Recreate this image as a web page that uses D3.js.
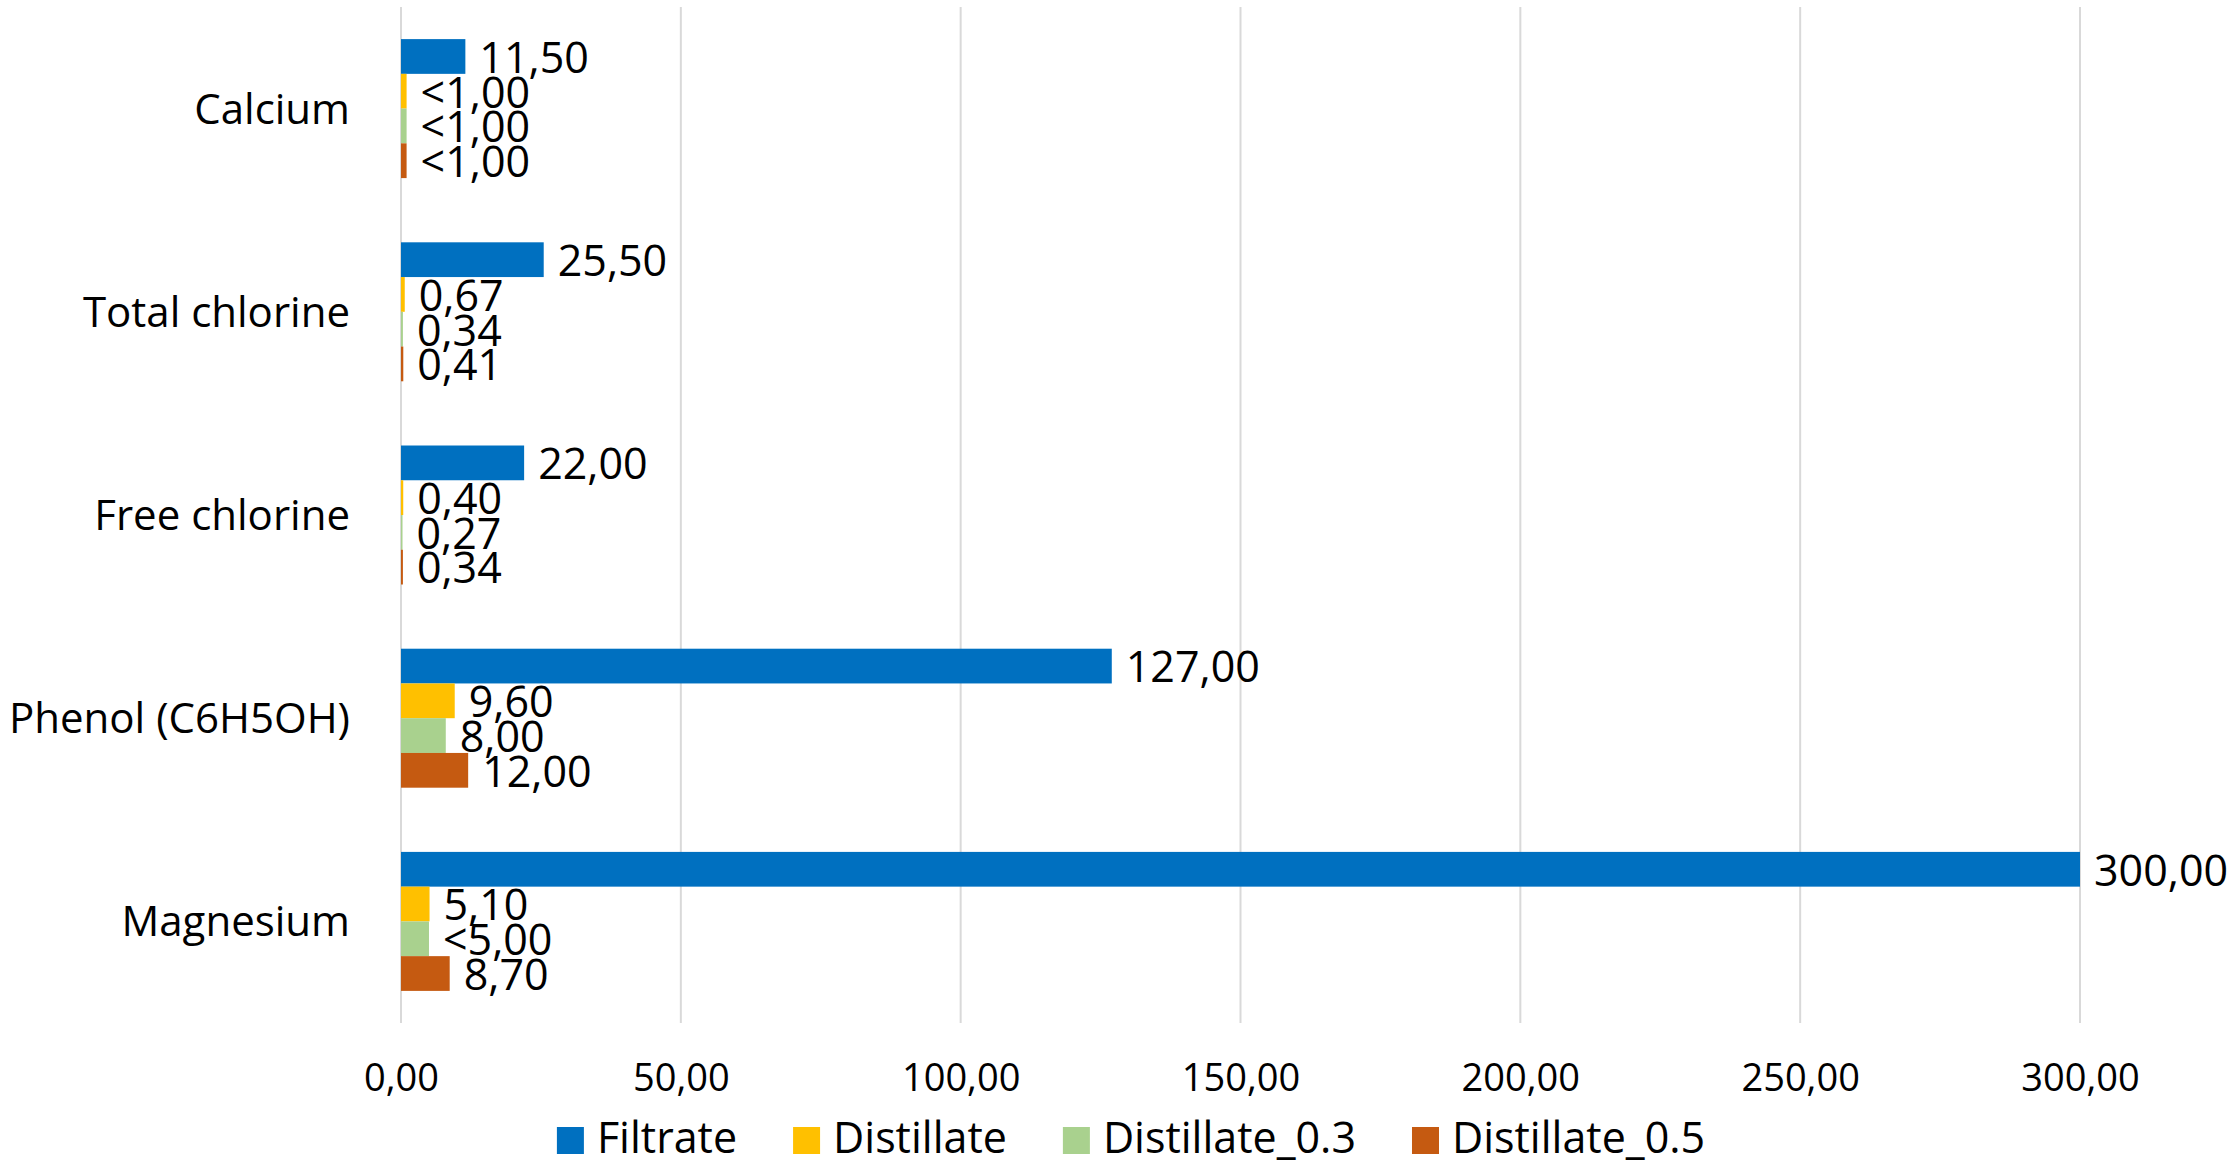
<!DOCTYPE html>
<html>
<head>
<meta charset="utf-8">
<script src="https://cdn.jsdelivr.net/npm/d3@7/dist/d3.min.js"></script>
<style>
  html, body { margin: 0; padding: 0; background: #ffffff; }
  svg { display: block; font-family: "Open Sans", sans-serif; }
</style>
</head>
<body>
<script>
// ---- Data ----
const categories = ["Calcium", "Total chlorine", "Free chlorine", "Phenol (C6H5OH)", "Magnesium"];
const seriesNames = ["Filtrate", "Distillate", "Distillate_0.3", "Distillate_0.5"];

const filtrate     = [11.50, 25.50, 22.00, 127.00, 300.00];
const distillate   = [1.00, 0.67, 0.40, 9.60, 5.10];
const distillate03 = [1.00, 0.34, 0.27, 8.00, 5.00];
const distillate05 = [1.00, 0.41, 0.34, 12.00, 8.70];

// "<" marks values reported below the detection limit
const filtrateQual     = ["", "", "", "", ""];
const distillateQual   = ["<", "", "", "", ""];
const distillate03Qual = ["<", "", "", "", "<"];
const distillate05Qual = ["<", "", "", "", ""];

const xTicks = [0, 50, 100, 150, 200, 250, 300];
const colors = ["#0070C0", "#FFC000", "#A9D18E", "#C55A11"];

// ---- Build ----
const seriesValues = [filtrate, distillate, distillate03, distillate05];
const seriesQuals = [filtrateQual, distillateQual, distillate03Qual, distillate05Qual];

const W = 2238, H = 1165;
const plotTop = 7, plotBottom = 1023, plotLeft = 401, plotRight = 2080;

const locale = d3.formatLocale({decimal: ",", thousands: " ", grouping: [3], currency: ["", ""]});
const fmt = locale.format(".2f");

const svg = d3.select("body").append("svg").attr("width", W).attr("height", H);
svg.append("rect").attr("width", W).attr("height", H).attr("fill", "#ffffff");

const x = d3.scaleLinear().domain([0, 300]).range([plotLeft, plotRight]);
const y = d3.scaleBand().domain(categories).range([plotTop, plotBottom])
  .paddingInner(0.316).paddingOuter(0.158);
const ys = d3.scaleBand().domain(seriesNames).range([0, y.bandwidth()]);
const color = d3.scaleOrdinal().domain(seriesNames).range(colors);

// gridlines
svg.append("g").selectAll("line").data(xTicks).join("line")
  .attr("x1", d => x(d)).attr("x2", d => x(d))
  .attr("y1", plotTop).attr("y2", plotBottom)
  .attr("stroke", "#D9D9D9").attr("stroke-width", 2);

// x axis tick labels
const xAxis = d3.axisBottom(x).tickValues(xTicks).tickFormat(fmt).tickSize(0).tickPadding(41);
const gx = svg.append("g").attr("transform", `translate(0,${plotBottom})`).call(xAxis);
gx.select(".domain").remove();
gx.selectAll("text").attr("font-family", "Open Sans").attr("font-size", 38).attr("fill", "#000");
gx.attr("font-family", null).attr("font-size", null);

// category labels
svg.append("g").selectAll("text").data(categories).join("text")
  .attr("x", 350)
  .attr("y", d => y(d) + y.bandwidth() / 2)
  .attr("dy", "0.357em")
  .attr("text-anchor", "end")
  .attr("font-size", 42)
  .attr("fill", "#000")
  .text(d => d);

// bars + labels
const flat = [];
seriesNames.forEach((s, i) => {
  categories.forEach((c, j) => {
    flat.push({series: s, cat: c, value: seriesValues[i][j], qual: seriesQuals[i][j]});
  });
});

svg.append("g").selectAll("rect").data(flat).join("rect")
  .attr("x", x(0))
  .attr("y", d => y(d.cat) + ys(d.series))
  .attr("width", d => x(d.value) - x(0))
  .attr("height", ys.bandwidth())
  .attr("fill", d => color(d.series));

svg.append("g").selectAll("text").data(flat).join("text")
  .attr("x", d => x(d.value) + 14)
  .attr("y", d => y(d.cat) + ys(d.series) + ys.bandwidth() / 2)
  .attr("dy", "0.38em")
  .attr("font-size", 43)
  .attr("fill", "#000")
  .text(d => d.qual + fmt(d.value));

// legend
const legend = svg.append("g");
const sq = 27, gapSqText = 13, gapItems = 56, legendCenter = 1131, legendBaseline = 1153;
const items = legend.selectAll("g").data(seriesNames).join("g");
items.append("rect").attr("width", sq).attr("height", sq).attr("y", legendBaseline - 26).attr("fill", d => color(d));
items.append("text").attr("x", sq + gapSqText).attr("y", legendBaseline)
  .attr("font-size", 43).attr("fill", "#000").text(d => d);
let widths = [];
items.each(function() { widths.push(sq + gapSqText + d3.select(this).select("text").node().getComputedTextLength()); });
const total = d3.sum(widths) + gapItems * (widths.length - 1);
let cx = legendCenter - total / 2;
items.attr("transform", (d, i) => {
  const t = `translate(${cx},0)`;
  cx += widths[i] + gapItems;
  return t;
});
</script>
</body>
</html>
